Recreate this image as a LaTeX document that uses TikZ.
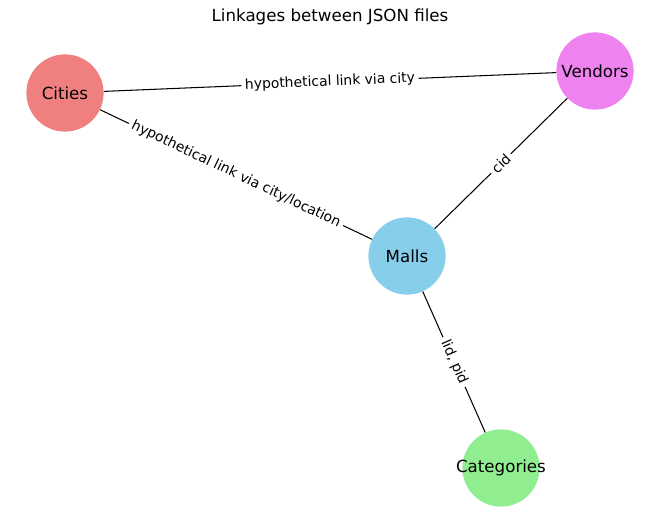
\documentclass[tikz,border=0pt]{standalone}
\usepackage{fontspec}
\setmainfont{DejaVu Sans}
\begin{document}
\begin{tikzpicture}[x=0.72pt,y=-0.72pt,
  gnode/.style={circle,minimum size=55.6pt,inner sep=0pt,font=\fontsize{12}{14}\selectfont},
  elabel/.style={midway,sloped,fill=white,inner xsep=2.6pt,inner ysep=1pt,font=\fontsize{10}{12}\selectfont},
  edge/.style={draw=black,line width=0.75pt}]
\useasboundingbox (0,0) rectangle (660,520);
\node[font=\fontsize{12}{14}\selectfont] (title) at (330,17) {Linkages between JSON files};
\node[gnode,fill={rgb,255:red,240;green,128;blue,128}] (cities) at (65,93) {\makebox[0pt]{Cities}};
\node[gnode,fill={rgb,255:red,238;green,130;blue,238}] (vendors) at (595,71) {\makebox[0pt]{Vendors}};
\node[gnode,fill={rgb,255:red,135;green,206;blue,235}] (malls) at (407,256) {\makebox[0pt]{Malls}};
\node[gnode,fill={rgb,255:red,144;green,238;blue,144}] (cats) at (501,468) {\makebox[0pt]{Categories}};
\draw[edge] (cities) -- node[elabel] {hypothetical link via city} (vendors);
\draw[edge] (cities) -- node[elabel] {hypothetical link via city/location} (malls);
\draw[edge] (malls) -- node[elabel] {cid} (vendors);
\draw[edge] (malls) -- node[elabel] {lid, pid} (cats);
\end{tikzpicture}
\end{document}
